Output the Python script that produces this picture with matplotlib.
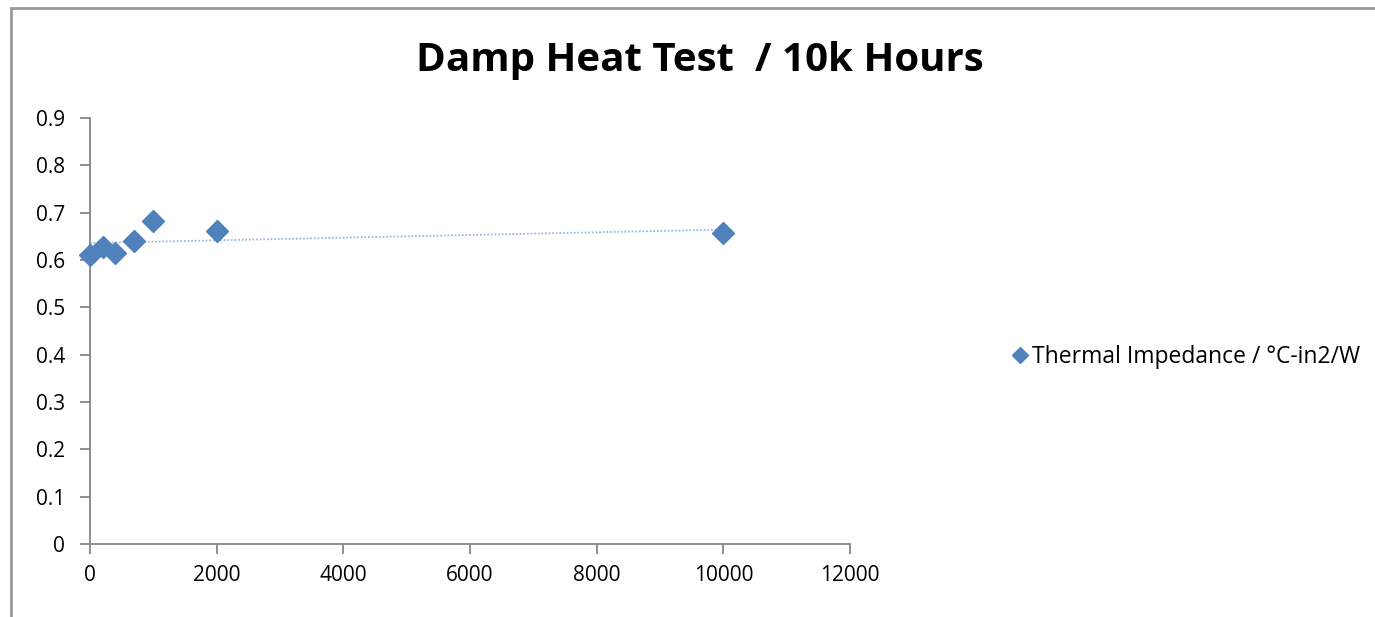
import numpy as np
import matplotlib.pyplot as plt
from matplotlib.lines import Line2D

# Damp heat test data
hours = [0, 200, 400, 700, 1000, 2000, 10000]
impedance = [0.61, 0.627, 0.615, 0.640, 0.682, 0.661, 0.657]
series_name = 'Thermal Impedance / °C-in2/W'
title = 'Damp Heat Test  / 10k Hours'

plt.rcParams['font.family'] = ['Open Sans', 'DejaVu Sans']

fig = plt.figure(figsize=(13.75, 6.17), dpi=100)
ax = fig.add_axes([0.0655, 0.1183, 0.5527, 0.6904])

blue = '#4F81BD'

# linear trendline, like Excel
coef = np.polyfit(hours, impedance, 1)
xt = np.array([min(hours), max(hours)])
ax.plot(xt, np.polyval(coef, xt), ls=(0, (1, 1)), color='#9DB9DC', lw=1.3, zorder=2)

ax.plot(hours, impedance, ls='none', marker='D', ms=11.5, color=blue, zorder=3,
        label=series_name, clip_on=False)

ax.set_xlim(0, 12000)
ax.set_ylim(0, 0.9)
ax.set_xticks(np.arange(0, 12001, 2000))
ax.set_yticks(np.arange(0, 0.91, 0.1))
ax.set_yticklabels(['0' if v == 0 else f'{v:.1f}' for v in np.arange(0, 0.91, 0.1)])

for s in ['top', 'right']:
    ax.spines[s].set_visible(False)
for s in ['left', 'bottom']:
    ax.spines[s].set_color('#868686')
    ax.spines[s].set_linewidth(1.3)
ax.tick_params(axis='both', colors='#868686', labelcolor='black', labelsize=15,
               length=7, width=1.3)
ax.tick_params(axis='y', pad=11)
ax.tick_params(axis='x', pad=8)

fig.text(0.509, 0.902, title, ha='center', va='center', fontsize=29, fontweight='bold')

fig.legend(handles=[Line2D([], [], ls='none', marker='D', ms=8.5, color=blue)],
           labels=[series_name], loc='center left', bbox_to_anchor=(0.722, 0.421),
           frameon=False, fontsize=16.5, handlelength=0.55, handletextpad=0.25)

# chart border
fig.add_artist(Line2D([11 / 1375, 11 / 1375], [0, 1 - 8 / 617], color='#9a9a9a', lw=2))
fig.add_artist(Line2D([11 / 1375, 1], [1 - 8 / 617, 1 - 8 / 617], color='#9a9a9a', lw=2))

fig.savefig('out.png', dpi=100)
